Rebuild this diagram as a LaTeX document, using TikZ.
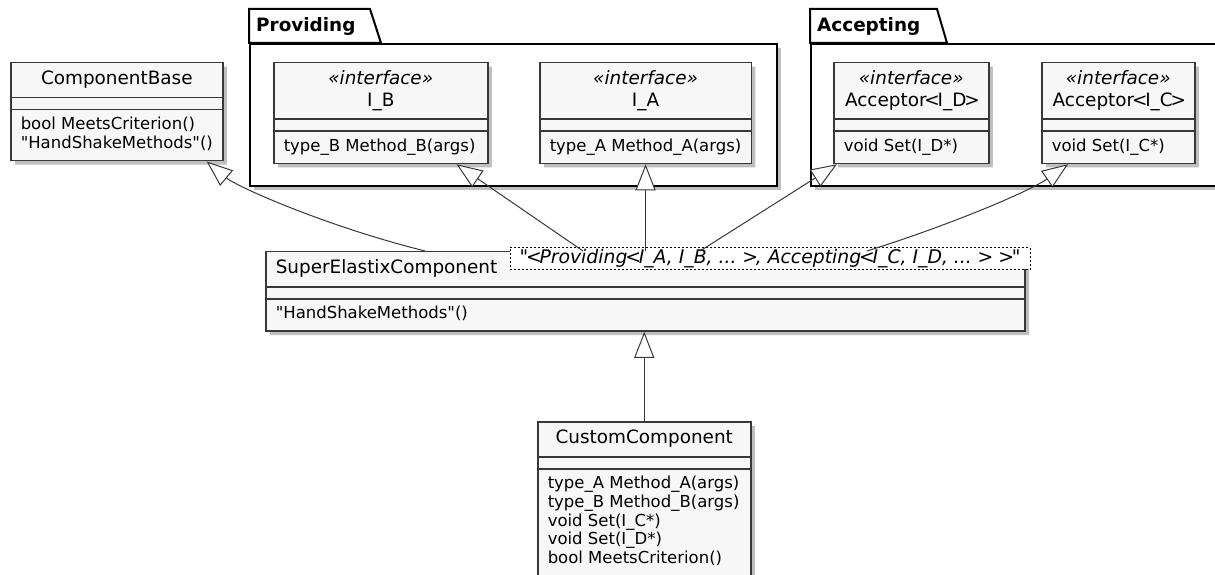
\documentclass[tikz,border=0pt]{standalone}
\usepackage{fontspec}
\setmainfont{DejaVu Sans}
\usetikzlibrary{shapes.multipart,shadows,arrows.meta}
\definecolor{classfill}{HTML}{F7F7F7}
\definecolor{classline}{HTML}{383838}
\newcommand{\namefont}{\fontsize{18.4bp}{21.5bp}\selectfont}
\newcommand{\memberfont}{\fontsize{16.5bp}{18.75bp}\selectfont}
\newcommand{\cname}[1]{{\namefont\begin{tabular}{@{}c@{}}#1\end{tabular}}}
% empty field compartment on top of the methods
\newcommand{\cmembers}[1]{{\memberfont\begin{tabular}{@{}l@{}}\noalign{\vskip12bp}#1\end{tabular}}}
\newcommand{\iface}{\textit{«interface»}}
\newcommand{\angleL}{\makebox[.6em]{<}}
\newcommand{\angleR}{\makebox[.6em]{>}}
\newcommand{\dq}{\textquotedbl}
\tikzset{
  classsep/.style={draw=classline, line width=1.5bp},
  umlclass/.style={rectangle split, rectangle split parts=2, anchor=north west,
    draw=classline, line width=1.5bp, fill=classfill,
    inner xsep=10bp, inner ysep=6bp,
    rectangle split part align={center,left},
    drop shadow={shadow xshift=4bp, shadow yshift=-4bp, opacity=.25, fill=black},
    append after command={([yshift=-12bp]\tikzlastnode.text split west)
      edge[classsep] ([yshift=-12bp]\tikzlastnode.text split east)}},
  pkg/.style={draw=black, line width=2bp, fill=white, anchor=north west, inner sep=0pt,
    drop shadow={shadow xshift=4bp, shadow yshift=-4bp, opacity=.25, fill=black}},
  pkgtab/.style={draw=black, line width=2bp, fill=white, line join=miter},
  pkglabel/.style={anchor=west, inner sep=0pt, font=\namefont\bfseries},
  tplbox/.style={draw=black, line width=1bp, dash pattern=on 2bp off 2bp, fill=white,
    anchor=north east, minimum width=520bp, minimum height=22bp, inner sep=0pt,
    font=\fontsize{18.8bp}{21.5bp}\selectfont\itshape},
  gen/.style={draw=classline, line width=1bp,
    -{Triangle[length=26bp, width=20bp, fill=white]}}
}
\begin{document}
\begin{tikzpicture}[x=1bp,y=-1bp]
\useasboundingbox[fill=white] (0,0) rectangle (1215,575);
% packages
\node[pkg, minimum width=527bp, minimum height=142bp] (providing) at (249,43) {};
\filldraw[pkgtab] (providing.north west) -- ++(0,-34) -- ++(121,0) -- ++(11,34) -- cycle;
\node[pkglabel] (providinglbl) at ([xshift=7bp,yshift=17bp]providing.north west) {Providing};
\node[pkg, minimum width=409bp, minimum height=142bp] (accepting) at (810,43) {};
\filldraw[pkgtab] (accepting.north west) -- ++(0,-34) -- ++(127,0) -- ++(10,34) -- cycle;
\node[pkglabel] (acceptinglbl) at ([xshift=7bp,yshift=17bp]accepting.north west) {Accepting};
% classes
\node[umlclass, minimum width=212bp] (base) at (10,62)
  {\cname{ComponentBase}\nodepart{two}%
   \cmembers{bool MeetsCriterion()\\\dq HandShakeMethods\dq()}};
\node[umlclass, minimum width=214bp] (ib) at (273,62)
  {\cname{\iface\\I\_B}\nodepart{two}%
   \cmembers{type\_B Method\_B(args)}};
\node[umlclass, minimum width=211bp] (ia) at (539,62)
  {\cname{\iface\\I\_A}\nodepart{two}%
   \cmembers{type\_A Method\_A(args)}};
\node[umlclass, minimum width=155bp] (id) at (833,62)
  {\cname{\iface\\Acceptor\angleL I\_D\angleR}\nodepart{two}%
   \cmembers{void Set(I\_D*)}};
\node[umlclass, minimum width=153bp] (ic) at (1041,62)
  {\cname{\iface\\Acceptor\angleL I\_C\angleR}\nodepart{two}%
   \cmembers{void Set(I\_C*)}};
\node[umlclass, minimum width=759bp, rectangle split part align={left,left}] (sec) at (265,251)
  {\cname{SuperElastixComponent}\nodepart{two}%
   \cmembers{\dq HandShakeMethods\dq()}};
\node[tplbox] (tpl) at ([xshift=5bp,yshift=4bp]sec.north east)
  {\dq\angleL Providing\angleL I\_A, I\_B, ... \angleR, Accepting\angleL I\_C, I\_D, ... \angleR\enspace\angleR\dq};
\node[umlclass, minimum width=213bp] (custom) at (537,421)
  {\cname{CustomComponent}\nodepart{two}%
   \cmembers{type\_A Method\_A(args)\\type\_B Method\_B(args)\\void Set(I\_C*)\\void Set(I\_D*)\\bool MeetsCriterion()}};
% generalisations
\draw[gen] ([xshift=160bp]sec.north west) .. controls +(-100,-25) and +(30,25) .. ([xshift=-17bp]base.south east);
\draw[gen] ([xshift=318bp]sec.north west) -- ([xshift=-32bp]ib.south east);
\draw[gen] (sec.north -| ia.south) -- (ia.south);
\draw[gen] ([xshift=435bp]sec.north west) -- ([xshift=4bp]id.south west);
\draw[gen] ([xshift=602bp]sec.north west) .. controls +(80,-25) and +(-40,28) .. ([xshift=27bp]ic.south west);
\draw[gen] (custom.north) -- (custom.north |- sec.south);
\end{tikzpicture}
\end{document}
